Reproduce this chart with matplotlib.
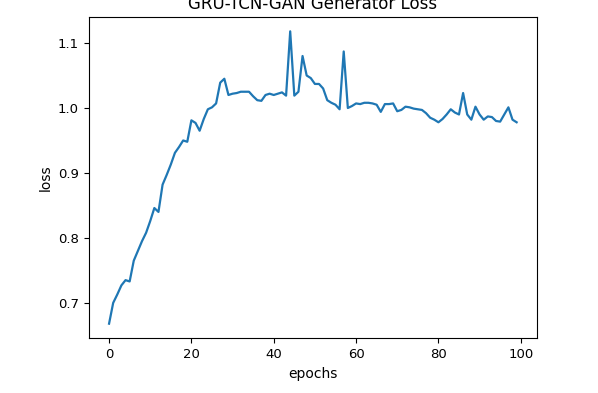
import numpy as np
import matplotlib
matplotlib.use('Agg')
import matplotlib.pyplot as plt

#generator loss per epoch
epochs = np.arange(100)
loss = [0.668, 0.700, 0.713, 0.727, 0.735, 0.733, 0.765, 0.780, 0.795, 0.808,
        0.826, 0.846, 0.840, 0.882, 0.897, 0.913, 0.931, 0.940, 0.950, 0.948,
        0.981, 0.977, 0.965, 0.983, 0.998, 1.001, 1.007, 1.039, 1.045, 1.020,
        1.022, 1.023, 1.025, 1.025, 1.025, 1.018, 1.012, 1.011, 1.020, 1.022,
        1.020, 1.022, 1.024, 1.019, 1.118, 1.019, 1.025, 1.080, 1.050, 1.046,
        1.037, 1.037, 1.030, 1.012, 1.008, 1.005, 0.998, 1.087, 1.000, 1.003,
        1.007, 1.006, 1.008, 1.008, 1.007, 1.005, 0.994, 1.006, 1.006, 1.007,
        0.995, 0.997, 1.002, 1.001, 0.999, 0.998, 0.997, 0.992, 0.985, 0.982,
        0.978, 0.983, 0.990, 0.998, 0.993, 0.990, 1.023, 0.990, 0.982, 1.002,
        0.990, 0.982, 0.987, 0.986, 0.980, 0.979, 0.990, 1.001, 0.982, 0.978]

title = 'GRU-TCN-GAN Generator Loss'

fig = plt.figure(figsize=(5.98, 3.93), dpi=100)
ax = fig.add_axes([0.1483, 0.1392, 0.7497, 0.8183])

ax.plot(epochs, loss, color='#1f77b4', lw=1.6)

ax.set_title(title, fontsize=12, pad=5.5)
ax.set_xlabel('epochs', fontsize=10)
ax.set_ylabel('loss', fontsize=10)
ax.tick_params(axis='both', labelsize=9.5)
ax.set_yticks([0.7, 0.8, 0.9, 1.0, 1.1])

fig.savefig('out.png', dpi=100)
